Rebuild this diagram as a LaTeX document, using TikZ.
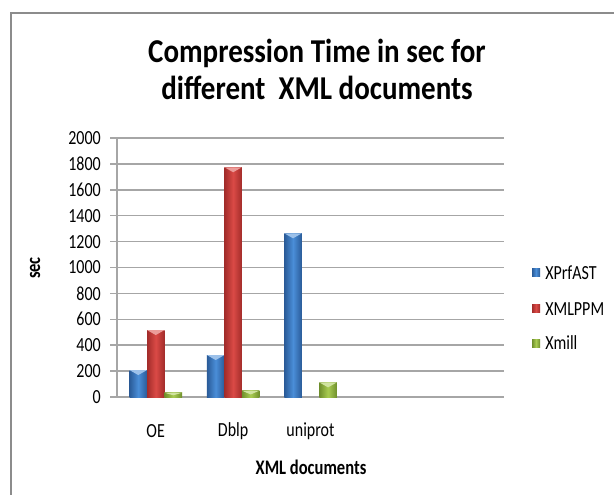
\documentclass[tikz,border=0pt]{standalone}
\usepackage{fontspec}
\setmainfont{Carlito}
\usepackage{graphicx}
\definecolor{bluedk}{HTML}{2A5B98}
\definecolor{bluelt}{HTML}{4A8ED8}
\definecolor{reddk}{HTML}{A22C2A}
\definecolor{redlt}{HTML}{DA4A46}
\definecolor{grndk}{HTML}{6F8F2C}
\definecolor{grnlt}{HTML}{A9CC52}
\definecolor{gridc}{HTML}{A6A6A6}
\definecolor{bordc}{HTML}{8C8C8C}
\newcommand\sq[1]{\scalebox{0.8}[1]{#1}}
\newcommand\sqt[1]{\scalebox{0.87}[1]{#1}}
\newcommand\chartbar[4]{%
  \pgfmathsetmacro\yt{397-0.1295*#2}%
  \pgfmathsetmacro\ch{min(5,0.6*0.1295*#2)}%
  \shade[left color=#3, right color=#3, middle color=#4] (#1,397) rectangle ({#1+17.5},\yt);%
  \fill[#4!55!white] (#1,\yt) -- ({#1+17.5},\yt) -- ({#1+8.75},{\yt+\ch}) -- cycle;%
}
\tikzset{
  grid line/.style={draw=gridc, line width=1.1pt},
  ticklbl/.style={anchor=east, inner sep=0pt, font=\fontsize{15}{18}\selectfont, text=black},
  catlbl/.style={inner sep=0pt, font=\fontsize{15}{18}\selectfont, text=black},
  axtitle/.style={inner sep=0pt, font=\fontsize{15.5}{18}\selectfont\bfseries},
  titlelbl/.style={anchor=base, inner sep=0pt, font=\fontsize{25}{30}\selectfont\bfseries},
  leglbl/.style={anchor=west, inner sep=0pt, font=\fontsize{15}{18}\selectfont, text=black},
}
\begin{document}
\begin{tikzpicture}[x=0.75pt, y=-0.75pt]
\useasboundingbox (0,0) rectangle (614,495);
\fill[white] (0,0) rectangle (614,495);
% outer frame
\draw[bordc, line width=1.5pt] (11,495) -- (11,13) -- (614,13);
% title
\node[titlelbl] (t1) at (317,63) {\sqt{Compression Time in sec for}};
\node[titlelbl] (t2) at (317,100) {\sqt{different~~XML documents}};
% gridlines and tick labels
\foreach \v [count=\i] in {0,200,...,2000} {
  \pgfmathsetmacro\yy{397-0.1295*\v}
  \draw[grid line] (110,\yy) -- (504,\yy);
  \node[ticklbl] (tk\i) at (101,\yy) {\sq{\v}};
}
\draw[grid line] (117,138) -- (117,397);
% bars
\chartbar{129.5}{208}{bluedk}{bluelt}
\chartbar{147}{517}{reddk}{redlt}
\chartbar{164.5}{33}{grndk}{grnlt}
\chartbar{206.9}{324}{bluedk}{bluelt}
\chartbar{224.4}{1774}{reddk}{redlt}
\chartbar{241.9}{49}{grndk}{grnlt}
\chartbar{284.3}{1264}{bluedk}{bluelt}
\chartbar{319.3}{113}{grndk}{grnlt}
% category labels
\node[catlbl] (cOE) at (155.7,431) {\sq{OE}};
\node[catlbl] (cDb) at (233.1,431) {\sq{Dblp}};
\node[catlbl] (cUn) at (310.5,431) {\sq{uniprot}};
% axis titles
\node[axtitle] (xt) at (311,467) {\sq{XML documents}};
\node[axtitle, rotate=90] (yt) at (35,268) {\sq{sec}};
% legend
\shade[left color=bluedk, right color=bluedk, middle color=bluelt] (532,269) rectangle (540,277);
\shade[left color=reddk, right color=reddk, middle color=redlt] (532,305) rectangle (540,313);
\shade[left color=grndk, right color=grndk, middle color=grnlt] (532,339) rectangle (540,347);
\node[leglbl] (l1) at (545,273) {\sq{XPrfAST}};
\node[leglbl] (l2) at (545,309) {\sq{XMLPPM}};
\node[leglbl] (l3) at (545,343) {\sq{Xmill}};
\end{tikzpicture}
\end{document}
